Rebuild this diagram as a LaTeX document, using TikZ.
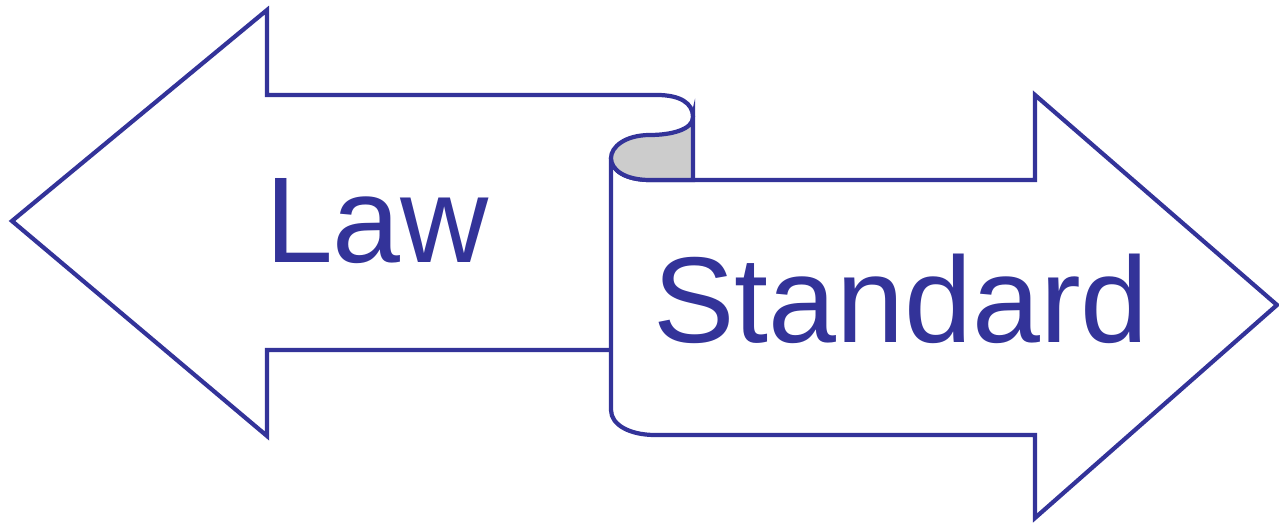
\documentclass[tikz,border=0pt]{standalone}
\usepackage{fontspec}
\setmainfont{Liberation Sans}
\usetikzlibrary{calc}
\definecolor{lawblue}{RGB}{51,51,153}
\definecolor{curlgray}{RGB}{204,204,204}

\begin{document}
\begin{tikzpicture}[x=0.02cm, y=-0.02cm, line join=miter,
		outline/.style={draw=lawblue, line width=2.4pt, fill=white},
		word/.style={text=lawblue, font=\fontsize{69.5}{70}\selectfont, anchor=base}]
		\useasboundingbox (0,0) rectangle (1279,523);

		% left arrow with the top of the scroll
		\draw[outline] (611,350) -- (267,350) -- (267,436) -- (12,221) -- (267,10) -- (267,95) -- (657,95)
			.. controls (680,95) and (693,103) .. (693,117);

		% right arrow
		\draw[outline] (611,158) -- (611,410) .. controls (611,425) and (630,435) .. (655,435) -- (1035,435)
			-- (1035,518) -- (1277,305) -- (1035,95) -- (1035,180) -- (693,180) -- (650,180)
			.. controls (625,180) and (611,170) .. (611,158) -- cycle;

		% curl of the scroll
		\draw[draw=lawblue, line width=2.4pt, fill=curlgray] (693,117) .. controls (693,130) and (670,135) .. (650,135)
			.. controls (625,135) and (611,147) .. (611,158)
			.. controls (611,170) and (625,180) .. (650,180) -- (693,180) -- cycle;

		\node[word] (law) at (377,263) {Law};
		\node[word] (standard) at (901,343) {Standard};
	\end{tikzpicture}
\end{document}
